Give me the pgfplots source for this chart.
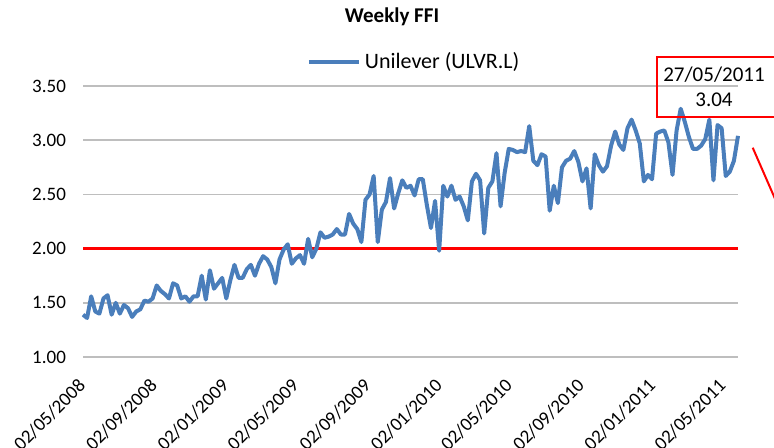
\documentclass[border=0pt]{standalone}
\usepackage{pgfplots}
\pgfplotsset{compat=1.18}
\usepackage{pgfplotstable}
\usepackage{fontspec}
\setmainfont{Carlito}
\definecolor{ffiblue}{RGB}{74,126,187}
\definecolor{gridgray}{RGB}{190,190,190}
\pgfplotstableread{
w v
0 1.39
1 1.36
2 1.56
3 1.42
4 1.40
5 1.54
6 1.57
7 1.39
8 1.50
9 1.40
10 1.48
11 1.45
12 1.37
13 1.42
14 1.44
15 1.52
16 1.51
17 1.54
18 1.66
19 1.61
20 1.58
21 1.54
22 1.68
23 1.66
24 1.54
25 1.56
26 1.51
27 1.56
28 1.56
29 1.75
30 1.53
31 1.80
32 1.63
33 1.68
34 1.73
35 1.54
36 1.71
37 1.85
38 1.73
39 1.73
40 1.81
41 1.85
42 1.75
43 1.86
44 1.93
45 1.90
46 1.83
47 1.68
48 1.90
49 1.99
50 2.04
51 1.86
52 1.91
53 1.94
54 1.86
55 2.09
56 1.92
57 2.00
58 2.15
59 2.10
60 2.11
61 2.13
62 2.18
63 2.13
64 2.13
65 2.32
66 2.23
67 2.18
68 2.06
69 2.45
70 2.50
71 2.67
72 2.06
73 2.36
74 2.43
75 2.65
76 2.37
77 2.51
78 2.63
79 2.56
80 2.58
81 2.49
82 2.64
83 2.64
84 2.40
85 2.19
86 2.44
87 1.98
88 2.58
89 2.48
90 2.58
91 2.45
92 2.48
93 2.39
94 2.26
95 2.62
96 2.69
97 2.63
98 2.14
99 2.56
100 2.62
101 2.88
102 2.39
103 2.70
104 2.92
105 2.91
106 2.89
107 2.90
108 2.89
109 3.13
110 2.81
111 2.77
112 2.87
113 2.85
114 2.35
115 2.58
116 2.42
117 2.75
118 2.81
119 2.83
120 2.90
121 2.80
122 2.62
123 2.74
124 2.37
125 2.87
126 2.77
127 2.71
128 2.76
129 2.95
130 3.08
131 2.96
132 2.91
133 3.11
134 3.19
135 3.09
136 2.97
137 2.62
138 2.68
139 2.64
140 3.06
141 3.08
142 3.09
143 2.98
144 2.68
145 3.09
146 3.29
147 3.17
148 3.03
149 2.92
150 2.92
151 2.95
152 3.01
153 3.19
154 2.63
155 3.14
156 3.11
157 2.67
158 2.71
159 2.81
160 3.04
}\ffidata
\begin{document}
\begin{tikzpicture}
\path[use as bounding box] (0pt,0pt) rectangle (387pt,-224pt);
\node[font=\fontsize{10.5}{12}\selectfont\bfseries] at (196pt,-8.5pt) {Weekly FFI};
\begin{axis}[
  at={(41.5pt,-178.5pt)}, anchor=south west,
  scale only axis, width=327.5pt, height=135.5pt,
  xmin=0, xmax=160, ymin=1, ymax=3.5,
  clip=false,
  axis line style={draw=none},
  major tick length=0pt,
  ymajorgrids, grid style={gridgray, line width=0.8pt},
  ytick={1,1.5,2,2.5,3,3.5},
  /pgf/number format/assume math mode=true,
  yticklabel style={/pgf/number format/fixed, /pgf/number format/fixed zerofill, /pgf/number format/precision=2, font=\fontsize{9.5}{11}\selectfont, xshift=-5pt},
  xtick={0,17.5714,35,52.1429,69.7143,87.1429,104.2857,121.8571,139.2857,156.4286},
  xticklabels={02/05/2008,02/09/2008,02/01/2009,02/05/2009,02/09/2009,02/01/2010,02/05/2010,02/09/2010,02/01/2011,02/05/2011},
  xticklabel style={font=\fontsize{9.5}{11}\selectfont, yshift=-10pt, xshift=-3pt, rotate=45, anchor=north east, inner sep=0pt},
  legend style={at={(0.507,1.089)}, anchor=center, draw=none, fill=none,
    font=\fontsize{11}{12}\selectfont, inner sep=0pt},
  legend image code/.code={\draw[#1] (0pt,0pt) -- (25pt,0pt);},
]
\addplot[red, line width=1.5pt, forget plot] coordinates {(0,2) (160,2)};
\addplot[ffiblue, line width=2pt, line join=round] table[x=w, y=v] {\ffidata};
\addlegendentry{Unilever (ULVR.L)}
\end{axis}
\draw[red, line width=1pt] (328.5pt,-28.5pt) rectangle (400pt,-58.5pt);
\node[font=\fontsize{10.5}{12}\selectfont] at (357pt,-37.5pt) {27/05/2011};
\node[font=\fontsize{10.5}{12}\selectfont] at (357pt,-50pt) {3.04};
\draw[red, line width=1pt] (376.35pt,-73.85pt) -- (400pt,-128pt);
\end{tikzpicture}
\end{document}
